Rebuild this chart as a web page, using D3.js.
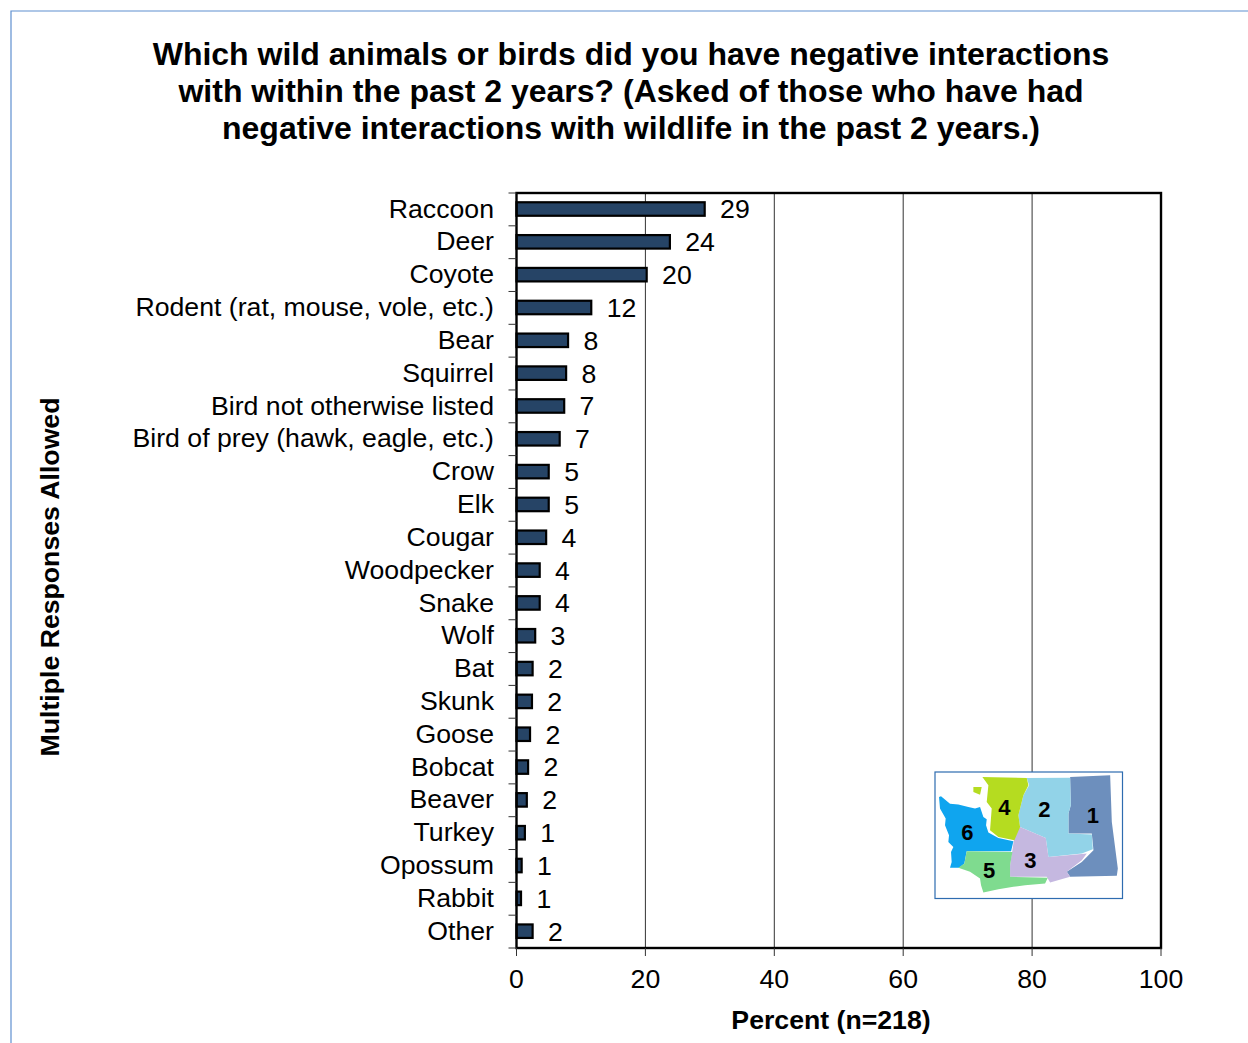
<!DOCTYPE html>
<html><head><meta charset="utf-8">
<script src="https://cdnjs.cloudflare.com/ajax/libs/d3/7.8.5/d3.min.js"></script>
<style>html,body{margin:0;padding:0;background:#fff;overflow:hidden}svg{display:block}text{font-family:"Liberation Sans",Arial,sans-serif;fill:#000}</style>
</head><body><svg id="c" width="1248" height="1043"></svg>
<script>
const titleLines=["Which wild animals or birds did you have negative interactions","with within the past 2 years? (Asked of those who have had","negative interactions with wildlife in the past 2 years.)"];
const categories=["Raccoon","Deer","Coyote","Rodent (rat, mouse, vole, etc.)","Bear","Squirrel","Bird not otherwise listed","Bird of prey (hawk, eagle, etc.)","Crow","Elk","Cougar","Woodpecker","Snake","Wolf","Bat","Skunk","Goose","Bobcat","Beaver","Turkey","Opossum","Rabbit","Other"];
const values=[29.2,23.8,20.2,11.6,8.0,7.7,7.4,6.7,5.0,5.0,4.6,3.6,3.6,2.9,2.5,2.4,2.1,1.8,1.6,1.3,0.8,0.7,2.5];
const valueLabels=[29,24,20,12,8,8,7,7,5,5,4,4,4,3,2,2,2,2,2,1,1,1,2];
const xTicks=[0,20,40,60,80,100];
const mapRegions=[
{id:"1",color:"#6d8fbd",pts:[[435,45],[555,40],[560,180],[578,320],[575,342],[435,345],[425,330],[470,300],[505,265],[500,215],[430,215],[430,155],[437,130]],at:[503,162]},
{id:"2",color:"#92d3e8",pts:[[305,48],[435,47],[437,130],[430,155],[430,215],[500,218],[503,262],[470,275],[370,285],[362,228],[285,195],[280,160],[295,100],[312,70]],at:[358,143]},
{id:"3",color:"#c5b8e0",pts:[[285,195],[362,228],[370,285],[485,275],[470,295],[425,330],[435,345],[375,362],[365,345],[255,345],[255,310],[262,265],[270,210]],at:[316,296]},
{id:"4",color:"#b5dc20",pts:[[172,45],[305,48],[310,70],[295,100],[280,160],[285,195],[268,235],[220,225],[195,205],[200,140],[185,120],[190,70]],at:[238,138]},
{id:"",color:"#b5dc20",pts:[[145,75],[170,75],[165,98],[145,90]],at:null},
{id:"6",color:"#0fa5ef",pts:[[42,105],[48,103],[75,125],[100,128],[130,135],[150,140],[165,135],[175,165],[185,172],[183,190],[190,212],[220,228],[265,238],[258,268],[125,268],[118,305],[103,318],[75,318],[80,300],[78,270],[85,255],[70,240],[72,220],[60,190],[62,170],[45,140]],at:[127,212]},
{id:"5",color:"#7fdb8f",pts:[[125,268],[262,270],[255,310],[255,345],[368,348],[360,365],[300,370],[265,375],[220,382],[175,392],[168,370],[165,350],[135,330],[100,318],[118,305]],at:[192,326]}
];

const svg=d3.select("#c");
const M={l:516.5,r:1161,t:193,b:948};
const x=d3.scaleLinear().domain([0,100]).range([M.l,M.r]);
const y=d3.scaleBand().domain(categories).range([M.t,M.b]);

svg.append("path").attr("d","M1248,11H11V1043").attr("fill","none").attr("stroke","#5f90d0").attr("stroke-width",1.2);

svg.append("g").selectAll("text").data(titleLines).join("text")
 .attr("x",631).attr("y",(d,i)=>65+i*37).attr("text-anchor","middle")
 .attr("font-size",32).attr("font-weight","bold").text(d=>d);

svg.append("g").selectAll("line").data(xTicks.slice(1,-1)).join("line")
 .attr("x1",d=>x(d)).attr("x2",d=>x(d)).attr("y1",M.t).attr("y2",M.b)
 .attr("stroke","#333").attr("stroke-width",1);

const barH=13.5;
svg.append("g").selectAll("rect").data(categories).join("rect")
 .attr("x",x(0)).attr("y",d=>y(d)+y.bandwidth()/2-barH/2-0.4)
 .attr("width",(d,i)=>x(values[i])-x(0)).attr("height",barH)
 .attr("fill","#264466").attr("stroke","#000").attr("stroke-width",2.2);

svg.append("rect").attr("x",M.l).attr("y",M.t).attr("width",M.r-M.l).attr("height",M.b-M.t)
 .attr("fill","none").attr("stroke","#000").attr("stroke-width",2.4);

const yTickPos=d3.range(categories.length+1).map(i=>M.t+i*y.step());
svg.append("g").selectAll("line").data(yTickPos).join("line")
 .attr("x1",M.l-8).attr("x2",M.l).attr("y1",d=>d).attr("y2",d=>d).attr("stroke","#333").attr("stroke-width",1);
svg.append("g").selectAll("line").data(xTicks).join("line")
 .attr("x1",d=>x(d)).attr("x2",d=>x(d)).attr("y1",M.b).attr("y2",M.b+8).attr("stroke","#333").attr("stroke-width",1);
svg.append("g").selectAll("text").data(xTicks).join("text")
 .attr("x",d=>x(d)).attr("y",988).attr("text-anchor","middle").attr("font-size",26.67).text(d=>d);
svg.append("g").selectAll("text").data(categories).join("text")
 .attr("x",494).attr("y",d=>y(d)+y.bandwidth()/2+8.2).attr("text-anchor","end").attr("font-size",26.67).text(d=>d);
svg.append("g").selectAll("text").data(categories).join("text")
 .attr("x",(d,i)=>x(values[i])+15.4).attr("y",d=>y(d)+y.bandwidth()/2+9).attr("font-size",26.67).text((d,i)=>valueLabels[i]);

svg.append("text").attr("x",831).attr("y",1029).attr("text-anchor","middle").attr("font-size",26.67).attr("font-weight","bold").text("Percent (n=218)");
svg.append("text").attr("transform","translate(59,577) rotate(-90)").attr("text-anchor","middle").attr("font-size",26.67).attr("font-weight","bold").text("Multiple Responses Allowed");

const mx=d3.scaleLinear().domain([30,592]).range([935,1122.5]);
const my=d3.scaleLinear().domain([30,410]).range([772,898.5]);
const inset=svg.append("g");
inset.append("rect").attr("x",mx(30)).attr("y",my(30)).attr("width",mx(592)-mx(30)).attr("height",my(410)-my(30))
 .attr("fill","#fff").attr("stroke","#2e6cb0").attr("stroke-width",1.2);
const area=d3.line().x(p=>mx(p[0])).y(p=>my(p[1])).curve(d3.curveLinearClosed);
inset.selectAll("path").data(mapRegions).join("path").attr("d",d=>area(d.pts)).attr("fill",d=>d.color);
inset.selectAll("text").data(mapRegions.filter(d=>d.at)).join("text")
 .attr("x",d=>mx(d.at[0])).attr("y",d=>my(d.at[1])+7.5).attr("text-anchor","middle")
 .attr("font-size",22).attr("font-weight","bold").text(d=>d.id);
</script></body></html>
